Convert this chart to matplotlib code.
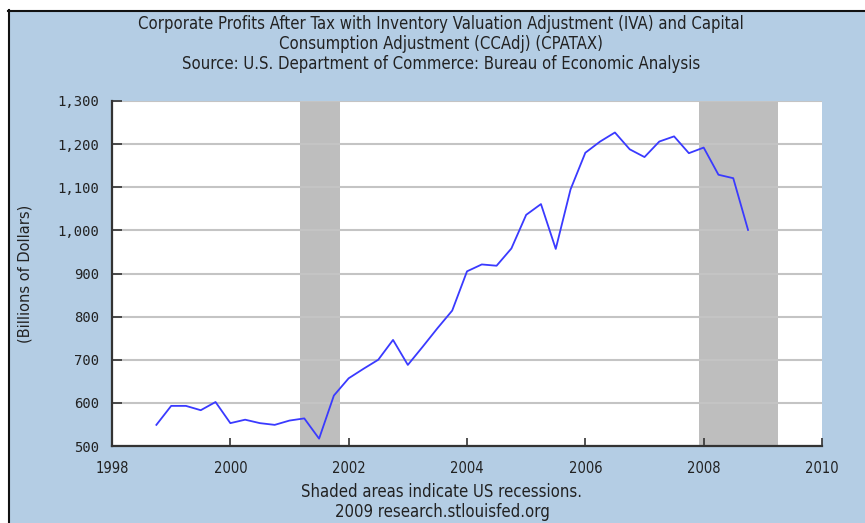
import matplotlib
matplotlib.use("Agg")
import matplotlib.pyplot as plt
from matplotlib.patches import Rectangle
from matplotlib.ticker import FuncFormatter

# Quarterly data, 1998 Q4 .. 2008 Q4 (decimal year of quarter start)
dates = [1998.75 + 0.25 * i for i in range(41)]
values = [549, 593, 593, 583, 602, 553, 561, 553, 549, 559,
          564, 517, 617, 657, 679, 700, 746, 688, 730, 773,
          814, 905, 921, 918, 958, 1036, 1061, 957, 1095, 1180,
          1206, 1227, 1188, 1170, 1206, 1218, 1179, 1192, 1129, 1121,
          1001]

recession_starts = [2001.17, 2007.92]
recession_ends = [2001.85, 2009.25]

x_ticks = [1998, 2000, 2002, 2004, 2006, 2008, 2010]
y_ticks = [500, 600, 700, 800, 900, 1000, 1100, 1200, 1300]

title_lines = ["Corporate Profits After Tax with Inventory Valuation Adjustment (IVA) and Capital",
               "Consumption Adjustment (CCAdj) (CPATAX)",
               "Source: U.S. Department of Commerce: Bureau of Economic Analysis"]
footer_lines = ["Shaded areas indicate US recessions.",
                "2009 research.stlouisfed.org"]
y_label = "(Billions of Dollars)"

BG = "#B4CDE4"
W, H = 865, 523

fig = plt.figure(figsize=(W / 100, H / 100), dpi=100)
fig.patch.set_facecolor("white")
# blue panel with a dark border on top and left
fig.patches.append(Rectangle((8 / W, 0), 1, 1 - 10 / H, transform=fig.transFigure,
                             facecolor=BG, edgecolor="none", zorder=-10))
fig.lines.append(plt.Line2D([8 / W, 1], [1 - 10.5 / H, 1 - 10.5 / H], transform=fig.transFigure,
                            color="#111111", lw=1.5, zorder=-9))
fig.lines.append(plt.Line2D([8.5 / W, 8.5 / W], [0, 1 - 10 / H], transform=fig.transFigure,
                            color="#111111", lw=1.5, zorder=-9))

ax = fig.add_axes([112 / W, (H - 446) / H, (822 - 112) / W, (446 - 101) / H])
ax.set_facecolor("white")

for s, e in zip(recession_starts, recession_ends):
    ax.axvspan(s, e, color="#BEBEBE", zorder=1, lw=0)

ax.plot(dates, values, color="#3A3AFF", lw=1.3, zorder=3)

ax.set_xlim(1998, 2010)
ax.set_ylim(500, 1300)
ax.set_xticks(x_ticks)
ax.set_yticks(y_ticks)
ax.yaxis.set_major_formatter(FuncFormatter(lambda v, p: f"{int(v):,}"))
ax.grid(axis="y", color="#C4C4C4", lw=1.5, zorder=2)
ax.set_axisbelow(False)

for side in ["top", "right"]:
    ax.spines[side].set_visible(False)
for side in ["left", "bottom"]:
    ax.spines[side].set_color("#333333")
    ax.spines[side].set_linewidth(1.6)
    ax.spines[side].set_zorder(4)

ax.tick_params(axis="x", direction="in", length=6, width=1.2, color="#333333",
               pad=11, labelsize=10.5, labelcolor="#222222")
ax.tick_params(axis="y", direction="in", length=7, width=1.2, color="#333333",
               pad=9, labelsize=10, labelcolor="#222222")
for lab in ax.get_yticklabels():
    lab.set_family("DejaVu Sans Mono")
for lab in ax.get_xticklabels():
    lab.set_family("DejaVu Sans")
    lab.set_fontstretch("condensed")

ax.set_ylabel(y_label, fontsize=10.5, color="#222222")
ax.yaxis.set_label_coords(-0.112, 0.5)

for i, t in enumerate(title_lines):
    fig.text(441 / W, 1 - (24 + 20 * i) / H, t, ha="center", va="center",
             fontsize=12, color="#222222", fontstretch="condensed")
for i, t in enumerate(footer_lines):
    fig.text(442 / W, 1 - (492 + 20 * i) / H, t, ha="center", va="center",
             fontsize=12, color="#222222", fontstretch="condensed")

fig.savefig("out.png", dpi=100, facecolor=fig.get_facecolor())
